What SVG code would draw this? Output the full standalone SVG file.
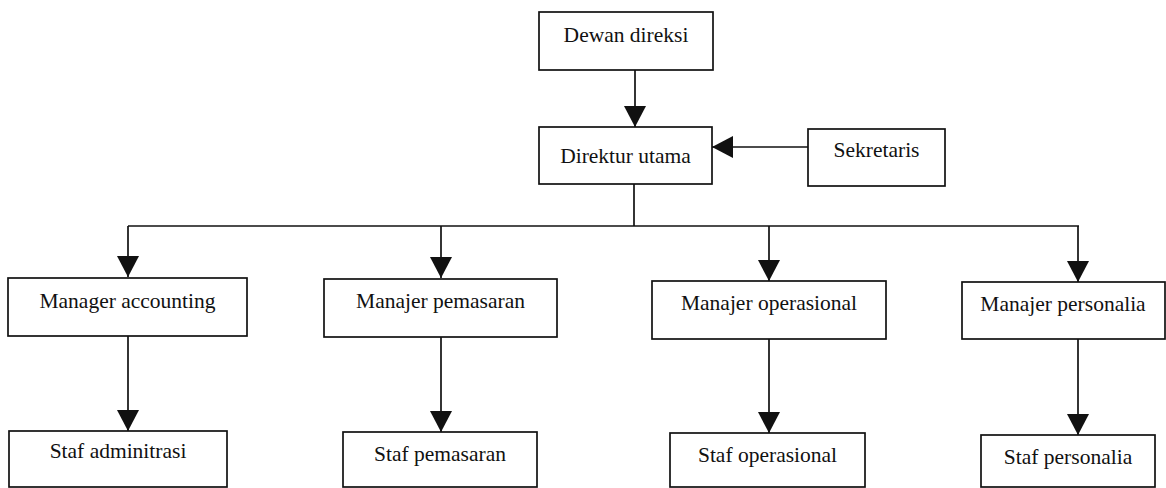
<svg xmlns="http://www.w3.org/2000/svg" width="1166" height="488" viewBox="0 0 1166 488">
<style>
.box{fill:#fff;stroke:#111;stroke-width:1.7}
.lbl{font-family:"Liberation Serif","Times New Roman",serif;font-size:21.5px;fill:#111;text-anchor:middle}
.ln{fill:none;stroke:#111;stroke-width:1.7}
</style>
<defs>
<marker id="ah" viewBox="0 0 21 22" refX="21" refY="11" markerWidth="21" markerHeight="22" markerUnits="userSpaceOnUse" orient="auto">
<path d="M0,0 L21,11 L0,22 Z" fill="#111"/>
</marker>
</defs>
<rect width="1166" height="488" fill="#fff"/>
<g id="connectors">
<path class="ln" d="M635,70 V127" marker-end="url(#ah)"/>
<path class="ln" d="M808,147 H712" marker-end="url(#ah)"/>
<path class="ln" d="M634,184 V226"/>
<path class="ln" d="M128,226 H1079"/>
<path class="ln" d="M128,226 V277" marker-end="url(#ah)"/>
<path class="ln" d="M441,226 V278" marker-end="url(#ah)"/>
<path class="ln" d="M769,226 V281" marker-end="url(#ah)"/>
<path class="ln" d="M1078,226 V282" marker-end="url(#ah)"/>
<path class="ln" d="M128,336 V431" marker-end="url(#ah)"/>
<path class="ln" d="M441,337 V432" marker-end="url(#ah)"/>
<path class="ln" d="M769,339 V433" marker-end="url(#ah)"/>
<path class="ln" d="M1078,339 V435" marker-end="url(#ah)"/>
</g>
<g id="dewan-direksi"><rect class="box" x="539" y="12" width="174" height="58"/><text class="lbl" x="626" y="42">Dewan direksi</text></g>
<g id="direktur-utama"><rect class="box" x="539" y="127" width="173" height="57"/><text class="lbl" x="625.5" y="163">Direktur utama</text></g>
<g id="sekretaris"><rect class="box" x="808" y="129" width="137" height="57"/><text class="lbl" x="876.5" y="157">Sekretaris</text></g>
<g id="manager-accounting"><rect class="box" x="8" y="278" width="239" height="58"/><text class="lbl" x="127.5" y="308">Manager accounting</text></g>
<g id="manajer-pemasaran"><rect class="box" x="324" y="279" width="233" height="58"/><text class="lbl" x="440.5" y="308">Manajer pemasaran</text></g>
<g id="manajer-operasional"><rect class="box" x="652" y="281" width="234" height="58"/><text class="lbl" x="769" y="310">Manajer operasional</text></g>
<g id="manajer-personalia"><rect class="box" x="962" y="282" width="203" height="57"/><text class="lbl" x="1063" y="311">Manajer personalia</text></g>
<g id="staf-adminitrasi"><rect class="box" x="9" y="431" width="218" height="56"/><text class="lbl" x="118" y="458">Staf adminitrasi</text></g>
<g id="staf-pemasaran"><rect class="box" x="343" y="432" width="194" height="55"/><text class="lbl" x="440" y="461">Staf pemasaran</text></g>
<g id="staf-operasional"><rect class="box" x="670" y="433" width="195" height="54"/><text class="lbl" x="767.5" y="462">Staf operasional</text></g>
<g id="staf-personalia"><rect class="box" x="981" y="435" width="174" height="52"/><text class="lbl" x="1068" y="464">Staf personalia</text></g>
</svg>
